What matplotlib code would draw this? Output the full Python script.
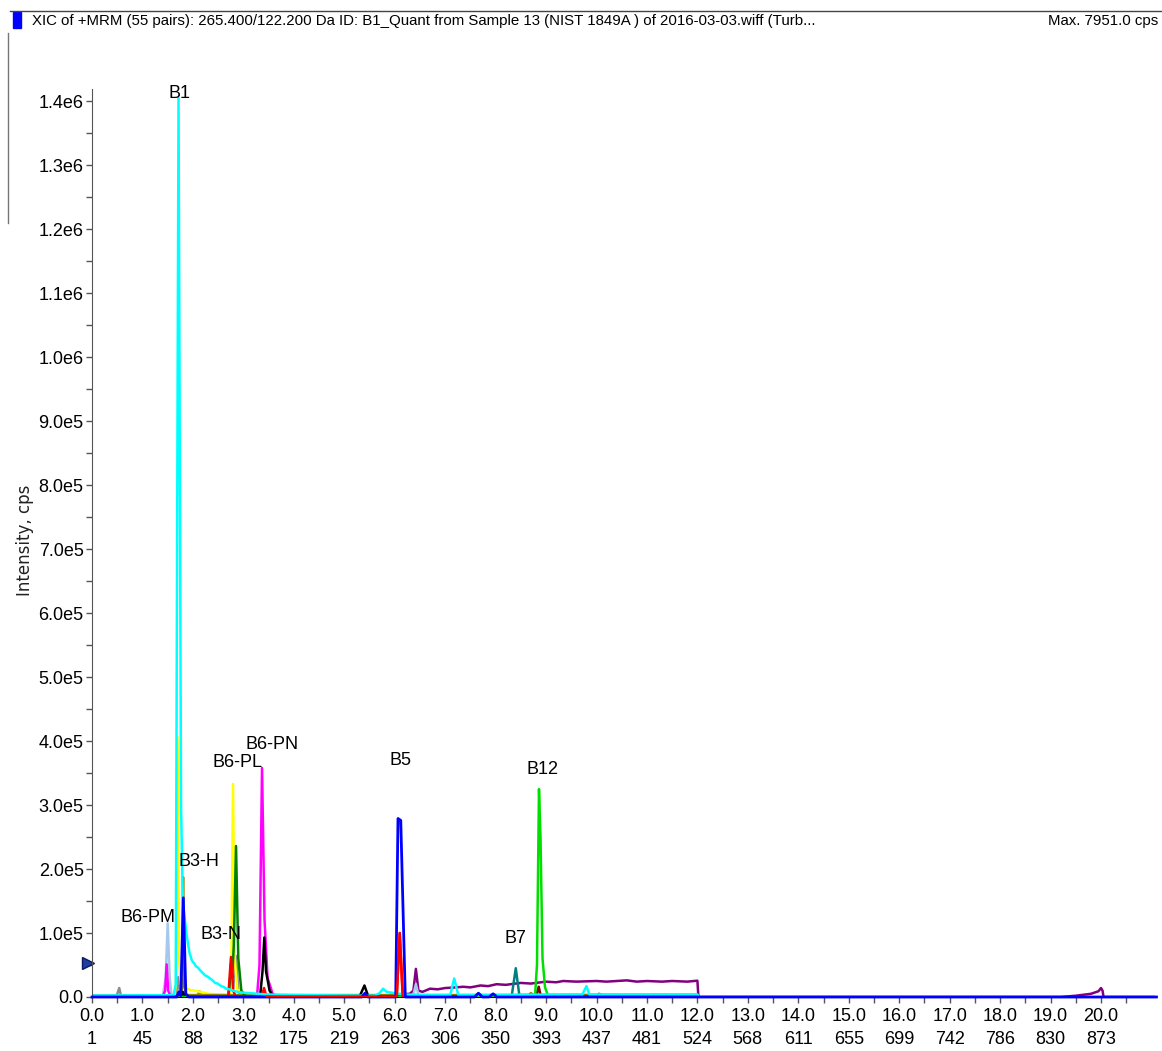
import numpy as np
import matplotlib.pyplot as plt
from matplotlib.patches import Rectangle
from matplotlib.lines import Line2D

plt.rcParams['font.family'] = ['Liberation Sans', 'DejaVu Sans']

# Axis ticks
x_ticks = [float(v) for v in range(21)]
scan_labels = ['1', '45', '88', '132', '175', '219', '263', '306', '350', '393', '437',
               '481', '524', '568', '611', '655', '699', '742', '786', '830', '873']
y_ticks = [0, 1e5, 2e5, 3e5, 4e5, 5e5, 6e5, 7e5, 8e5, 9e5, 1e6, 1.1e6, 1.2e6, 1.3e6, 1.4e6]
y_labels = ['0.0', '1.0e5', '2.0e5', '3.0e5', '4.0e5', '5.0e5', '6.0e5', '7.0e5', '8.0e5',
            '9.0e5', '1.0e6', '1.1e6', '1.2e6', '1.3e6', '1.4e6']

# Traces (time in min, intensity in cps)
purple_t = [0, 5.8, 5.9, 6.3, 6.37, 6.42, 6.47, 6.55, 6.7, 6.85, 7.0, 7.2, 7.36, 7.5, 7.7, 7.85,
            8.02, 8.2, 8.5, 8.7, 9.0, 9.2, 9.34, 9.6, 10.0, 10.2, 10.6, 10.8, 11.0, 11.3, 11.5,
            11.8, 12.0, 12.02, 19.2, 19.5, 19.8, 19.95, 20.0, 20.03, 20.05, 21.1]
purple_i = [0, 0, 3e3, 5e3, 1e4, 4.4e4, 1e4, 8e3, 1.3e4, 1.2e4, 1.4e4, 1.5e4, 1.6e4, 1.5e4, 1.8e4, 1.7e4,
            2.0e4, 1.9e4, 2.2e4, 2.1e4, 2.4e4, 2.3e4, 2.5e4, 2.4e4, 2.5e4, 2.4e4, 2.6e4, 2.4e4, 2.5e4, 2.4e4, 2.5e4,
            2.4e4, 2.55e4, 0, 0, 2e3, 5e3, 9e3, 1.4e4, 1.0e4, 0, 0]

teal_t = [0, 8.32, 8.40, 8.47, 10.0, 10.05, 10.12, 12.0, 12.02]
teal_i = [2e3, 2e3, 4.5e4, 3e3, 3e3, 5e3, 3e3, 3e3, 0]

gray_t = [0, 0.48, 0.54, 0.58, 1.66, 1.71, 1.75, 2.08, 2.13, 2.18, 2.72, 2.76, 2.80, 2.855, 2.90, 2.96, 12.0]
gray_i = [0, 0, 1.4e4, 0, 0, 3.1e4, 0, 0, 9e3, 0, 0, 2.5e4, 1.5e4, 6.4e4, 1e4, 0, 0]

lightblue_t = [0, 1.40, 1.46, 1.50, 1.54, 1.58, 6.36, 6.42, 6.48, 12.0]
lightblue_i = [0, 0, 3e4, 1.15e5, 3e4, 0, 0, 2e4, 0, 0]

magenta_t = [0, 1.40, 1.45, 1.48, 1.51, 1.56, 3.27, 3.32, 3.37, 3.42, 3.48, 3.58, 3.7, 12.0]
magenta_i = [0, 0, 1e4, 5.1e4, 1e4, 0, 0, 5e4, 3.58e5, 1.2e5, 3e4, 5e3, 0, 0]

yellow_t = [0, 1.63, 1.665, 1.695, 1.725, 1.76, 1.85, 1.95, 2.10, 2.3, 2.72, 2.76, 2.795, 2.83,
            2.88, 3.0, 3.3, 12.0, 12.02]
yellow_i = [1e3, 1e3, 2e4, 4.06e5, 6e4, 2e4, 1.4e4, 1.1e4, 9e3, 5e3, 3e3, 2e4, 3.33e5, 6e4,
            1.2e4, 4e3, 2e3, 2e3, 0]

olive_t = [0, 1.76, 1.79, 1.805, 1.825, 1.86, 2.7, 8.65, 8.70, 8.75, 12.0, 12.02]
olive_i = [0, 0, 2e4, 1.875e5, 2e4, 3e3, 3e3, 3e3, 6e3, 3e3, 3e3, 0]

green_t = [0, 2.70, 2.73, 2.755, 2.78, 2.81, 2.855, 2.90, 2.96, 3.05, 12.0]
green_i = [0, 0, 2e4, 5.2e4, 3e4, 8e4, 2.36e5, 6e4, 1e4, 0, 0]

red_t = [0, 2.70, 2.755, 2.80, 2.85, 3.36, 3.41, 3.46, 6.04, 6.10, 6.16, 12.0]
red_i = [0, 0, 6.25e4, 1e4, 0, 0, 1.4e4, 0, 0, 1.0e5, 0, 0]

black_t = [0, 1.76, 1.80, 1.85, 3.33, 3.38, 3.415, 3.45, 3.52, 3.6, 5.30, 5.40, 5.48, 12.0]
black_i = [0, 0, 8e3, 0, 0, 4e4, 9.3e4, 4e4, 1e4, 0, 0, 1.8e4, 0, 0]

maroon_t = [0, 7.9, 8.0, 8.1, 8.80, 8.855, 8.90, 12.0]
maroon_i = [0, 0, 3e3, 0, 0, 1.6e4, 0, 0]

lime_t = [0, 8.78, 8.82, 8.86, 8.89, 8.93, 8.98, 9.05, 12.0]
lime_i = [0, 0, 5e4, 3.25e5, 2.5e5, 6e4, 1.5e4, 0, 0]

cyan_t = [0, 1.62, 1.66, 1.715, 1.765, 1.80, 1.87, 1.93, 1.98, 2.03, 2.06, 2.10, 2.14, 2.19, 2.24,
          2.29, 2.34, 2.39, 2.44, 2.49, 2.54, 2.60, 2.66, 2.72, 2.80, 2.88, 2.96, 3.13, 3.46, 4.0,
          5.6, 5.70, 5.77, 5.84, 6.0, 6.2, 6.5, 7.10, 7.18, 7.26, 9.72, 9.80, 9.86, 12.0, 12.02]
cyan_i = [2e3, 3e3, 2e4, 1.405e6, 3e5, 1.5e5, 1.0e5, 7e4, 5.7e4, 5.2e4, 4.8e4, 4.6e4, 4.2e4, 3.8e4, 3.4e4,
          3.2e4, 2.9e4, 2.6e4, 2.2e4, 2.1e4, 1.8e4, 1.6e4, 1.3e4, 1.2e4, 1.0e4, 8e3, 7e3, 6e3, 4e3, 3e3,
          2e3, 6e3, 1.3e4, 8e3, 6e3, 4e3, 3e3, 3e3, 2.9e4, 3e3, 4e3, 1.7e4, 4e3, 4e3, 0]

blue_t = [0, 1.68, 1.72, 1.76, 1.81, 1.86, 1.92, 5.35, 5.41, 5.47, 6.02, 6.065, 6.12, 6.21,
          7.58, 7.66, 7.74, 7.87, 7.95, 8.03, 21.1]
blue_i = [0, 0, 8e3, 2e3, 1.55e5, 5e3, 0, 0, 6e3, 0, 0, 2.79e5, 2.76e5, 0,
          0, 6e3, 0, 0, 5e3, 0, 0]

# Peak labels
label_text = ['B1', 'B3-H', 'B6-PM', 'B3-N', 'B6-PL', 'B6-PN', 'B5', 'B12', 'B7']
label_t = [1.73, 2.12, 1.11, 2.56, 2.89, 3.57, 6.12, 8.92, 8.40]
label_i = [1.412e6, 2.11e5, 1.25e5, 9.8e4, 3.67e5, 3.94e5, 3.69e5, 3.56e5, 9.2e4]

fig = plt.figure(figsize=(11.62, 10.51), dpi=100)
ax = fig.add_axes([0.07917, 0.05138, 0.9148, 0.8639])

traces = [
    (purple_t, purple_i, '#800080'),
    (teal_t, teal_i, '#008080'),
    (gray_t, gray_i, '#8c8c8c'),
    (lightblue_t, lightblue_i, '#a6c8ec'),
    (magenta_t, magenta_i, '#ff00ff'),
    (yellow_t, yellow_i, '#ffff00'),
    (olive_t, olive_i, '#8c8200'),
    (green_t, green_i, '#008000'),
    (red_t, red_i, '#ff0000'),
    (black_t, black_i, '#000000'),
    (maroon_t, maroon_i, '#800000'),
    (lime_t, lime_i, '#00e000'),
    (cyan_t, cyan_i, '#00ffff'),
]
for t, i, c in traces:
    ax.plot(t, i, color=c, lw=1.8, solid_joinstyle='round')
ax.plot(blue_t, blue_i, color='#0000ff', lw=2.0, zorder=5, clip_on=False)
# red over blue at B5
ax.plot(red_t[7:11], red_i[7:11], color='#ff0000', lw=1.8, zorder=6)

for s, t, i in zip(label_text, label_t, label_i):
    ax.text(t, i, s, ha='center', va='center', fontsize=13, zorder=7)

ax.set_xlim(0, 21.07)
ax.set_ylim(0, 1.419e6)
ax.set_xticks(x_ticks)
ax.set_xticklabels([f'{x:.1f}\n{s}' for x, s in zip(x_ticks, scan_labels)], fontsize=13,
                   linespacing=1.45)
ax.set_xticks(np.arange(0.5, 21.0, 1.0), minor=True)
ax.set_yticks(y_ticks)
ax.set_yticklabels(y_labels, fontsize=13)
ax.set_yticks(np.arange(0.5e5, 1.41e6, 1e5), minor=True)
ax.tick_params(axis='both', which='both', direction='out', length=4, width=1, color='#555555', pad=2)
ax.tick_params(axis='x', which='both', pad=4)

for side in ['top', 'right']:
    ax.spines[side].set_visible(False)
ax.spines['left'].set_color('#555555')
ax.spines['bottom'].set_color('#000000')

# threshold marker left of axis
ax.plot([-0.08], [5.3e4], marker='>', ms=8, color='#1f3fa0', mec='#0a1a60', clip_on=False)

fig.text(25 / 1162, 1 - 540 / 1051, 'Intensity, cps', rotation=90, ha='center', va='center',
         fontsize=12, family='DejaVu Sans', color='#222222')

# header
fig.add_artist(Line2D([10 / 1162, 1], [1 - 11 / 1051, 1 - 11 / 1051], color='#444444', lw=1))
fig.add_artist(Line2D([8 / 1162, 8 / 1162], [1 - 33 / 1051, 1 - 223 / 1051], color='#777777', lw=1))
fig.add_artist(Rectangle((13 / 1162, 1 - 28 / 1051), 8 / 1162, 16 / 1051, color='#0000ff'))
fig.text(32 / 1162, 1 - 21 / 1051,
         'XIC of +MRM (55 pairs): 265.400/122.200 Da ID: B1_Quant from Sample 13 (NIST 1849A ) of 2016-03-03.wiff (Turb...',
         ha='left', va='center', fontsize=10.8)
fig.text(1158 / 1162, 1 - 21 / 1051, 'Max. 7951.0 cps', ha='right', va='center', fontsize=10.8)

fig.savefig('out.png', dpi=100)
